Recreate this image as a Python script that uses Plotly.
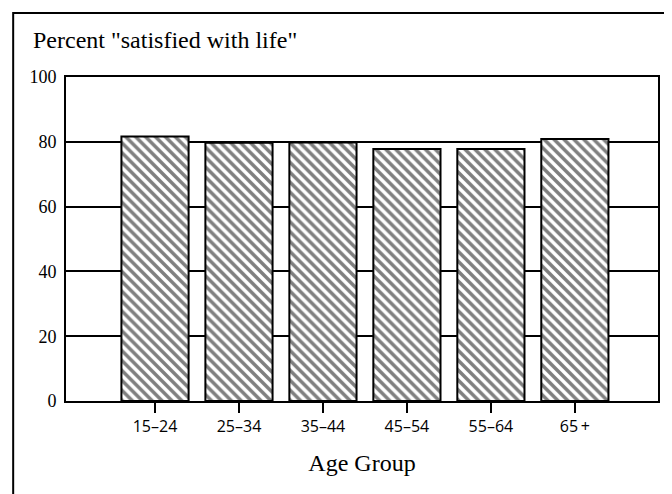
import plotly.graph_objects as go

age_groups = ["15\u201324", "25\u201334", "35\u201344", "45\u201354", "55\u201364", "65\u2009+"]
pct_satisfied = [81.6, 79.7, 79.8, 77.8, 77.8, 80.9]
y_ticks = [0, 20, 40, 60, 80, 100]

OFF = 8  # browser body margin
W, H = 672 - OFF, 494 - OFF
L, R, T, B = 66 - OFF, 12, 77 - OFF, 93
pw, ph = W - L - R, H - T - B

def px_x(x):
    return (x - OFF - L) / pw

def px_y(y):
    return (H - B - (y - OFF)) / ph

fig = go.Figure(go.Bar(
    x=age_groups, y=pct_satisfied, width=0.8,
    marker=dict(color="white", line=dict(color="black", width=2),
                pattern=dict(shape="\\", fgcolor="black", bgcolor="white",
                             size=7, solidity=0.5)),
))

serif = "Liberation Serif"
fig.update_layout(
    width=W, height=H, margin=dict(l=L, r=R, t=T, b=B),
    paper_bgcolor="white", plot_bgcolor="white", showlegend=False,
    bargap=0.2,
    xaxis=dict(
        range=[-1.06, 5.99], showline=True, mirror=True, linecolor="black", linewidth=2,
        ticks="outside", ticklen=10, tickwidth=2, tickcolor="black",
        tickfont=dict(family="Open Sans", size=16, color="black"),
        showgrid=False, zeroline=False,
        title=dict(text="Age Group", font=dict(family=serif, size=24, color="black"), standoff=18),
    ),
    yaxis=dict(
        range=[0, 100], tickvals=y_ticks, showline=True, mirror=True,
        linecolor="black", linewidth=2, ticks="", ticklabelstandoff=4,
        tickfont=dict(family=serif, size=18, color="black"),
        showgrid=True, gridcolor="black", gridwidth=2, zeroline=False,
    ),
    annotations=[dict(
        text='Percent "satisfied with life"', xref="paper", yref="paper",
        x=px_x(31), y=px_y(40), xanchor="left", yanchor="middle", showarrow=False,
        font=dict(family=serif, size=24, color="black"),
    )],
    shapes=[dict(
        type="rect", xref="paper", yref="paper",
        x0=px_x(13), x1=px_x(690), y0=px_y(13), y1=px_y(520),
        line=dict(color="black", width=2), fillcolor="rgba(0,0,0,0)", layer="above",
    )],
)

fig.write_html("out.html")
